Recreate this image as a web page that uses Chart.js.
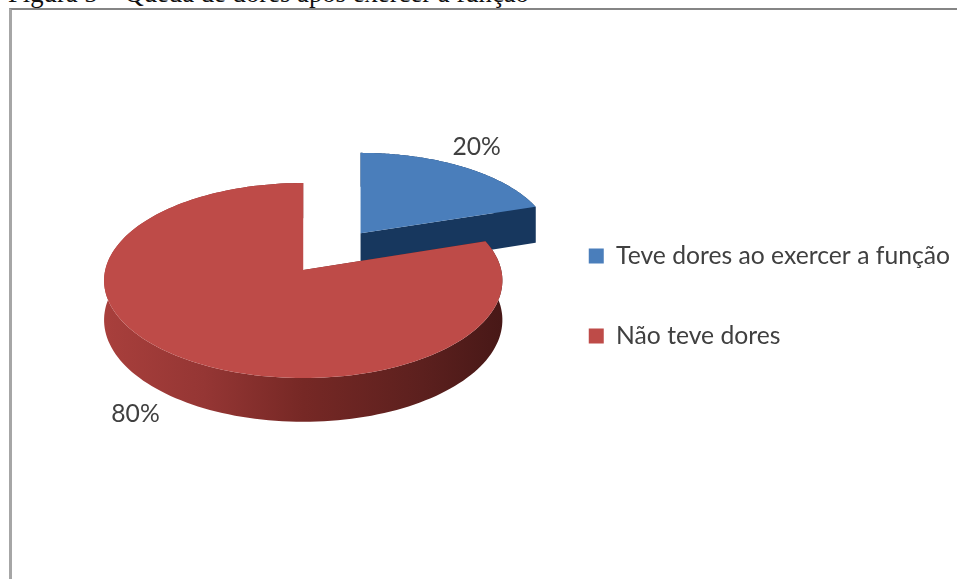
<!DOCTYPE html>
<html lang="pt">
<head>
<meta charset="utf-8">
<title>Queda de dores</title>
<script src="https://cdn.jsdelivr.net/npm/chart.js@4/dist/chart.umd.min.js"></script>
<style>
  html, body { margin: 0; padding: 0; background: #fff; overflow: hidden; }
  #page { position: relative; width: 957px; height: 579px; overflow: hidden; }
  #caption {
    position: absolute; left: 8px; top: -20px; white-space: nowrap;
    font: 26.7px/1 "Liberation Serif", serif; color: #111;
  }
  #frame {
    position: absolute; left: 9px; top: 8px; width: 960px; height: 580px;
    border-left: 3px solid #a6a6a6; border-top: 2px solid #858585;
  }
  #chart { position: absolute; left: 0; top: 0; width: 957px; height: 579px; }
</style>
</head>
<body>
<div id="page">
  <div id="caption">Figura 5 – Queda de dores após exercer a função</div>
  <div id="frame"></div>
  <canvas id="chart" width="957" height="579"></canvas>
</div>
<script>
const categories = ["Teve dores ao exercer a função", "Não teve dores"];
const percentages = [20, 80];
const topColors = ["#4a7ebb", "#be4b48"];
const explode = [91, 0];

// tilted-disc projection of the arc elements
const RADIUS_X = 198, RADIUS_Y = 96.4, PERSPECTIVE = 0.00112, DEPTH = 39, LIFT = 26;

function project(el, angle, u) {
  const scale = 1 / el.outerRadius;
  const off = (el.options.offset || 0) * scale;
  const mid = (el.startAngle + el.endAngle) / 2;
  const offX = Math.cos(mid) * off * RADIUS_X;
  const Y = (Math.sin(mid) * off + Math.sin(angle) * u) * RADIUS_Y;
  const k = 1 / (1 - PERSPECTIVE * Y);
  return { x: el.x + offX + Math.cos(angle) * u * RADIUS_X * k, y: el.y - LIFT + Y * k, k };
}

function sample(el, steps = 160) {
  const pts = [];
  for (let i = 0; i <= steps; i++) pts.push(project(el, el.startAngle + (el.endAngle - el.startAngle) * i / steps, 1));
  return pts;
}

function tracePoints(ctx, pts) {
  pts.forEach((p, i) => i ? ctx.lineTo(p.x, p.y) : ctx.moveTo(p.x, p.y));
}

function sideFill(ctx, index, el) {
  if (index === 0) return "#17375e";
  const g = ctx.createLinearGradient(el.x - RADIUS_X, 0, el.x + RADIUS_X, 0);
  g.addColorStop(0, "#a83f3c");
  g.addColorStop(0.25, "#953634");
  g.addColorStop(0.5, "#762825");
  g.addColorStop(0.8, "#5c201e");
  g.addColorStop(1, "#481817");
  return g;
}

const pie3d = {
  id: "pie3d",
  beforeDatasetsDraw(chart) {
    const ctx = chart.ctx;
    chart.getDatasetMeta(0).data.forEach((el, i) => {
      const arc = sample(el);
      const apex = project(el, el.startAngle, 0);
      const drop = p => ({ x: p.x, y: p.y + DEPTH * p.k });
      ctx.save();
      // extruded wall, painted under the top face
      ctx.fillStyle = sideFill(ctx, i, el);
      ctx.beginPath();
      tracePoints(ctx, arc.concat(arc.map(drop).reverse()));
      ctx.closePath();
      ctx.fill();
      [arc[0], arc[arc.length - 1]].forEach(p => {
        ctx.beginPath();
        tracePoints(ctx, [apex, p, drop(p), drop(apex)]);
        ctx.closePath();
        ctx.fill();
      });
      ctx.fillStyle = topColors[i];
      ctx.beginPath();
      tracePoints(ctx, [apex].concat(arc));
      ctx.closePath();
      ctx.fill();
      ctx.restore();
    });
    return false;
  },
  afterDraw(chart) {
    const ctx = chart.ctx;
    ctx.save();
    ctx.font = '24.7px Lato, sans-serif';
    ctx.fillStyle = "#404040";
    ctx.textAlign = "center";
    ctx.textBaseline = "middle";
    chart.getDatasetMeta(0).data.forEach((el, i) => {
      const mid = (el.startAngle + el.endAngle) / 2;
      const front = Math.sin(mid) > 0;
      // front labels sit below the wall, back labels above the rim
      const p = project(el, mid, front ? 1.28 : 1.14);
      ctx.fillText(percentages[i] + "%", p.x, p.y + (front ? 32 : -12));
    });
    ctx.restore();
  }
};

new Chart(document.getElementById("chart"), {
  type: "pie",
  data: {
    labels: categories,
    datasets: [{ data: percentages, backgroundColor: topColors, borderWidth: 0, offset: explode }]
  },
  options: {
    responsive: false,
    animation: false,
    layout: { padding: { left: 73, right: -3, top: 13, bottom: 0 } },
    plugins: {
      tooltip: { enabled: false },
      legend: {
        position: "right",
        labels: {
          boxWidth: 15, boxHeight: 15, padding: 55.3, color: "#404040",
          font: { family: "Lato", size: 24.7 }
        }
      }
    }
  },
  plugins: [pie3d]
});
</script>
</body>
</html>
